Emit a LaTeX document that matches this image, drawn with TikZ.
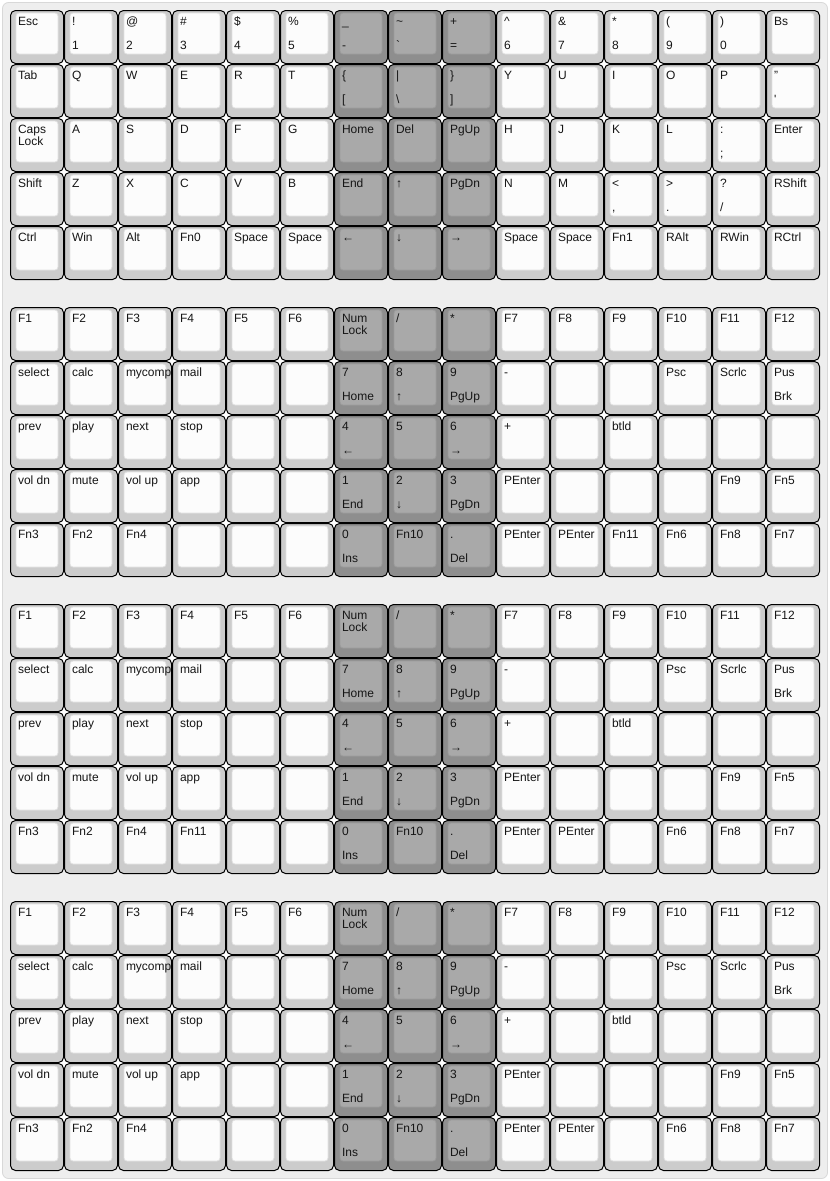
\documentclass[tikz,border=0pt]{standalone}
\usepackage{fontspec}
\setmainfont{Liberation Sans}
\definecolor{bgc}{HTML}{EEEEEE}
\definecolor{bgb}{HTML}{D8D8D8}
\definecolor{keyL}{HTML}{CCCCCC}
\definecolor{topL}{HTML}{FCFCFC}
\definecolor{topLb}{HTML}{E0E0E0}
\definecolor{keyD}{HTML}{8E8E8E}
\definecolor{topD}{HTML}{A9A9A9}
\definecolor{topDb}{HTML}{9C9C9C}
\definecolor{txt}{HTML}{161616}
\tikzset{
  keyoutL/.style={fill=keyL, draw=black, line width=1pt, rounded corners=5pt},
  keyoutD/.style={fill=keyD, draw=black, line width=1pt, rounded corners=5pt},
  keyinL/.style={fill=topL, draw=topLb, line width=0.8pt, rounded corners=3pt},
  keyinD/.style={fill=topD, draw=topDb, line width=0.8pt, rounded corners=3pt},
  lab/.style={anchor=base west, inner sep=0pt, outer sep=0pt, text=txt, font=\fontsize{12}{12}\selectfont},
}
% #1 col, #2 row, #3 L/D, #4 top label, #5 bottom label
\newcommand\kb[5]{%
  \pgfmathsetmacro\kx{10+54*#1}%
  \pgfmathsetmacro\ky{\by+54*#2}%
  \draw[keyout#3] (\kx+0.5,\ky+0.5) rectangle (\kx+53.5,\ky+53.5);
  \draw[keyin#3] (\kx+6,\ky+3) rectangle (\kx+48,\ky+44);
  \if\relax\detokenize{#4}\relax\else
    \node[lab] (t\blk-#2-#1) at (\kx+8,\ky+15.3) {#4};
  \fi
  \if\relax\detokenize{#5}\relax\else
    \node[lab] (b\blk-#2-#1) at (\kx+8,\ky+39.3) {#5};
  \fi
}
% second line of a wrapped top label
\newcommand\kline[3]{%
  \pgfmathsetmacro\kx{10+54*#1}%
  \pgfmathsetmacro\ky{\by+54*#2}%
  \node[lab] (m\blk-#2-#1) at (\kx+8,\ky+27.5) {#3};
}
\newcommand\blockbg{%
  \fill[white] (13,\by+3) rectangle (817,\by+267);
}
% number pad blocks; #1 = row 4 col 3 label, #2 = row 4 col 11 label
\newcommand\padblock[2]{%
  \blockbg
  \kb{0}{0}{L}{F1}{}
  \kb{1}{0}{L}{F2}{}
  \kb{2}{0}{L}{F3}{}
  \kb{3}{0}{L}{F4}{}
  \kb{4}{0}{L}{F5}{}
  \kb{5}{0}{L}{F6}{}
  \kb{6}{0}{D}{Num}{}
  \kline{6}{0}{Lock}
  \kb{7}{0}{D}{/}{}
  \kb{8}{0}{D}{*}{}
  \kb{9}{0}{L}{F7}{}
  \kb{10}{0}{L}{F8}{}
  \kb{11}{0}{L}{F9}{}
  \kb{12}{0}{L}{F10}{}
  \kb{13}{0}{L}{F11}{}
  \kb{14}{0}{L}{F12}{}
  %
  \kb{0}{1}{L}{select}{}
  \kb{1}{1}{L}{calc}{}
  \kb{2}{1}{L}{mycomp}{}
  \kb{3}{1}{L}{mail}{}
  \kb{4}{1}{L}{}{}
  \kb{5}{1}{L}{}{}
  \kb{6}{1}{D}{7}{Home}
  \kb{7}{1}{D}{8}{↑}
  \kb{8}{1}{D}{9}{PgUp}
  \kb{9}{1}{L}{-}{}
  \kb{10}{1}{L}{}{}
  \kb{11}{1}{L}{}{}
  \kb{12}{1}{L}{Psc}{}
  \kb{13}{1}{L}{Scrlc}{}
  \kb{14}{1}{L}{Pus}{Brk}
  %
  \kb{0}{2}{L}{prev}{}
  \kb{1}{2}{L}{play}{}
  \kb{2}{2}{L}{next}{}
  \kb{3}{2}{L}{stop}{}
  \kb{4}{2}{L}{}{}
  \kb{5}{2}{L}{}{}
  \kb{6}{2}{D}{4}{←}
  \kb{7}{2}{D}{5}{}
  \kb{8}{2}{D}{6}{→}
  \kb{9}{2}{L}{+}{}
  \kb{10}{2}{L}{}{}
  \kb{11}{2}{L}{btld}{}
  \kb{12}{2}{L}{}{}
  \kb{13}{2}{L}{}{}
  \kb{14}{2}{L}{}{}
  %
  \kb{0}{3}{L}{vol dn}{}
  \kb{1}{3}{L}{mute}{}
  \kb{2}{3}{L}{vol up}{}
  \kb{3}{3}{L}{app}{}
  \kb{4}{3}{L}{}{}
  \kb{5}{3}{L}{}{}
  \kb{6}{3}{D}{1}{End}
  \kb{7}{3}{D}{2}{↓}
  \kb{8}{3}{D}{3}{PgDn}
  \kb{9}{3}{L}{PEnter}{}
  \kb{10}{3}{L}{}{}
  \kb{11}{3}{L}{}{}
  \kb{12}{3}{L}{}{}
  \kb{13}{3}{L}{Fn9}{}
  \kb{14}{3}{L}{Fn5}{}
  %
  \kb{0}{4}{L}{Fn3}{}
  \kb{1}{4}{L}{Fn2}{}
  \kb{2}{4}{L}{Fn4}{}
  \kb{3}{4}{L}{#1}{}
  \kb{4}{4}{L}{}{}
  \kb{5}{4}{L}{}{}
  \kb{6}{4}{D}{0}{Ins}
  \kb{7}{4}{D}{Fn10}{}
  \kb{8}{4}{D}{.}{Del}
  \kb{9}{4}{L}{PEnter}{}
  \kb{10}{4}{L}{PEnter}{}
  \kb{11}{4}{L}{#2}{}
  \kb{12}{4}{L}{Fn6}{}
  \kb{13}{4}{L}{Fn8}{}
  \kb{14}{4}{L}{Fn7}{}
}
\begin{document}
\begin{tikzpicture}[x=1pt, y=-1pt]
\useasboundingbox (0,0) rectangle (830,1181);
\fill[white] (0,0) rectangle (830,1181);
\draw[fill=bgc, draw=bgb, line width=0.8pt, rounded corners=6pt] (2.5,2.5) rectangle (827.5,1178.5);
% ---------- block 1 ----------
\def\by{10}\def\blk{1}
\blockbg
\kb{0}{0}{L}{Esc}{}
\kb{1}{0}{L}{!}{1}
\kb{2}{0}{L}{@}{2}
\kb{3}{0}{L}{\#}{3}
\kb{4}{0}{L}{\$}{4}
\kb{5}{0}{L}{\%}{5}
\kb{6}{0}{D}{\_}{-}
\kb{7}{0}{D}{\textasciitilde}{\textasciigrave}
\kb{8}{0}{D}{+}{=}
\kb{9}{0}{L}{\textasciicircum}{6}
\kb{10}{0}{L}{\&}{7}
\kb{11}{0}{L}{*}{8}
\kb{12}{0}{L}{(}{9}
\kb{13}{0}{L}{)}{0}
\kb{14}{0}{L}{Bs}{}
%
\kb{0}{1}{L}{Tab}{}
\kb{1}{1}{L}{Q}{}
\kb{2}{1}{L}{W}{}
\kb{3}{1}{L}{E}{}
\kb{4}{1}{L}{R}{}
\kb{5}{1}{L}{T}{}
\kb{6}{1}{D}{\{}{[}
\kb{7}{1}{D}{\textbar}{\textbackslash}
\kb{8}{1}{D}{\}}{]}
\kb{9}{1}{L}{Y}{}
\kb{10}{1}{L}{U}{}
\kb{11}{1}{L}{I}{}
\kb{12}{1}{L}{O}{}
\kb{13}{1}{L}{P}{}
\kb{14}{1}{L}{"}{\textquotesingle}
%
\kb{0}{2}{L}{Caps}{}
\kline{0}{2}{Lock}
\kb{1}{2}{L}{A}{}
\kb{2}{2}{L}{S}{}
\kb{3}{2}{L}{D}{}
\kb{4}{2}{L}{F}{}
\kb{5}{2}{L}{G}{}
\kb{6}{2}{D}{Home}{}
\kb{7}{2}{D}{Del}{}
\kb{8}{2}{D}{PgUp}{}
\kb{9}{2}{L}{H}{}
\kb{10}{2}{L}{J}{}
\kb{11}{2}{L}{K}{}
\kb{12}{2}{L}{L}{}
\kb{13}{2}{L}{:}{;}
\kb{14}{2}{L}{Enter}{}
%
\kb{0}{3}{L}{Shift}{}
\kb{1}{3}{L}{Z}{}
\kb{2}{3}{L}{X}{}
\kb{3}{3}{L}{C}{}
\kb{4}{3}{L}{V}{}
\kb{5}{3}{L}{B}{}
\kb{6}{3}{D}{End}{}
\kb{7}{3}{D}{↑}{}
\kb{8}{3}{D}{PgDn}{}
\kb{9}{3}{L}{N}{}
\kb{10}{3}{L}{M}{}
\kb{11}{3}{L}{<}{,}
\kb{12}{3}{L}{>}{.}
\kb{13}{3}{L}{?}{/}
\kb{14}{3}{L}{RShift}{}
%
\kb{0}{4}{L}{Ctrl}{}
\kb{1}{4}{L}{Win}{}
\kb{2}{4}{L}{Alt}{}
\kb{3}{4}{L}{Fn0}{}
\kb{4}{4}{L}{Space}{}
\kb{5}{4}{L}{Space}{}
\kb{6}{4}{D}{←}{}
\kb{7}{4}{D}{↓}{}
\kb{8}{4}{D}{→}{}
\kb{9}{4}{L}{Space}{}
\kb{10}{4}{L}{Space}{}
\kb{11}{4}{L}{Fn1}{}
\kb{12}{4}{L}{RAlt}{}
\kb{13}{4}{L}{RWin}{}
\kb{14}{4}{L}{RCtrl}{}
% ---------- block 2 ----------
\def\by{307}\def\blk{2}
\padblock{}{Fn11}
% ---------- block 3 ----------
\def\by{604}\def\blk{3}
\padblock{Fn11}{}
% ---------- block 4 ----------
\def\by{901}\def\blk{4}
\padblock{}{}
\end{tikzpicture}
\end{document}
